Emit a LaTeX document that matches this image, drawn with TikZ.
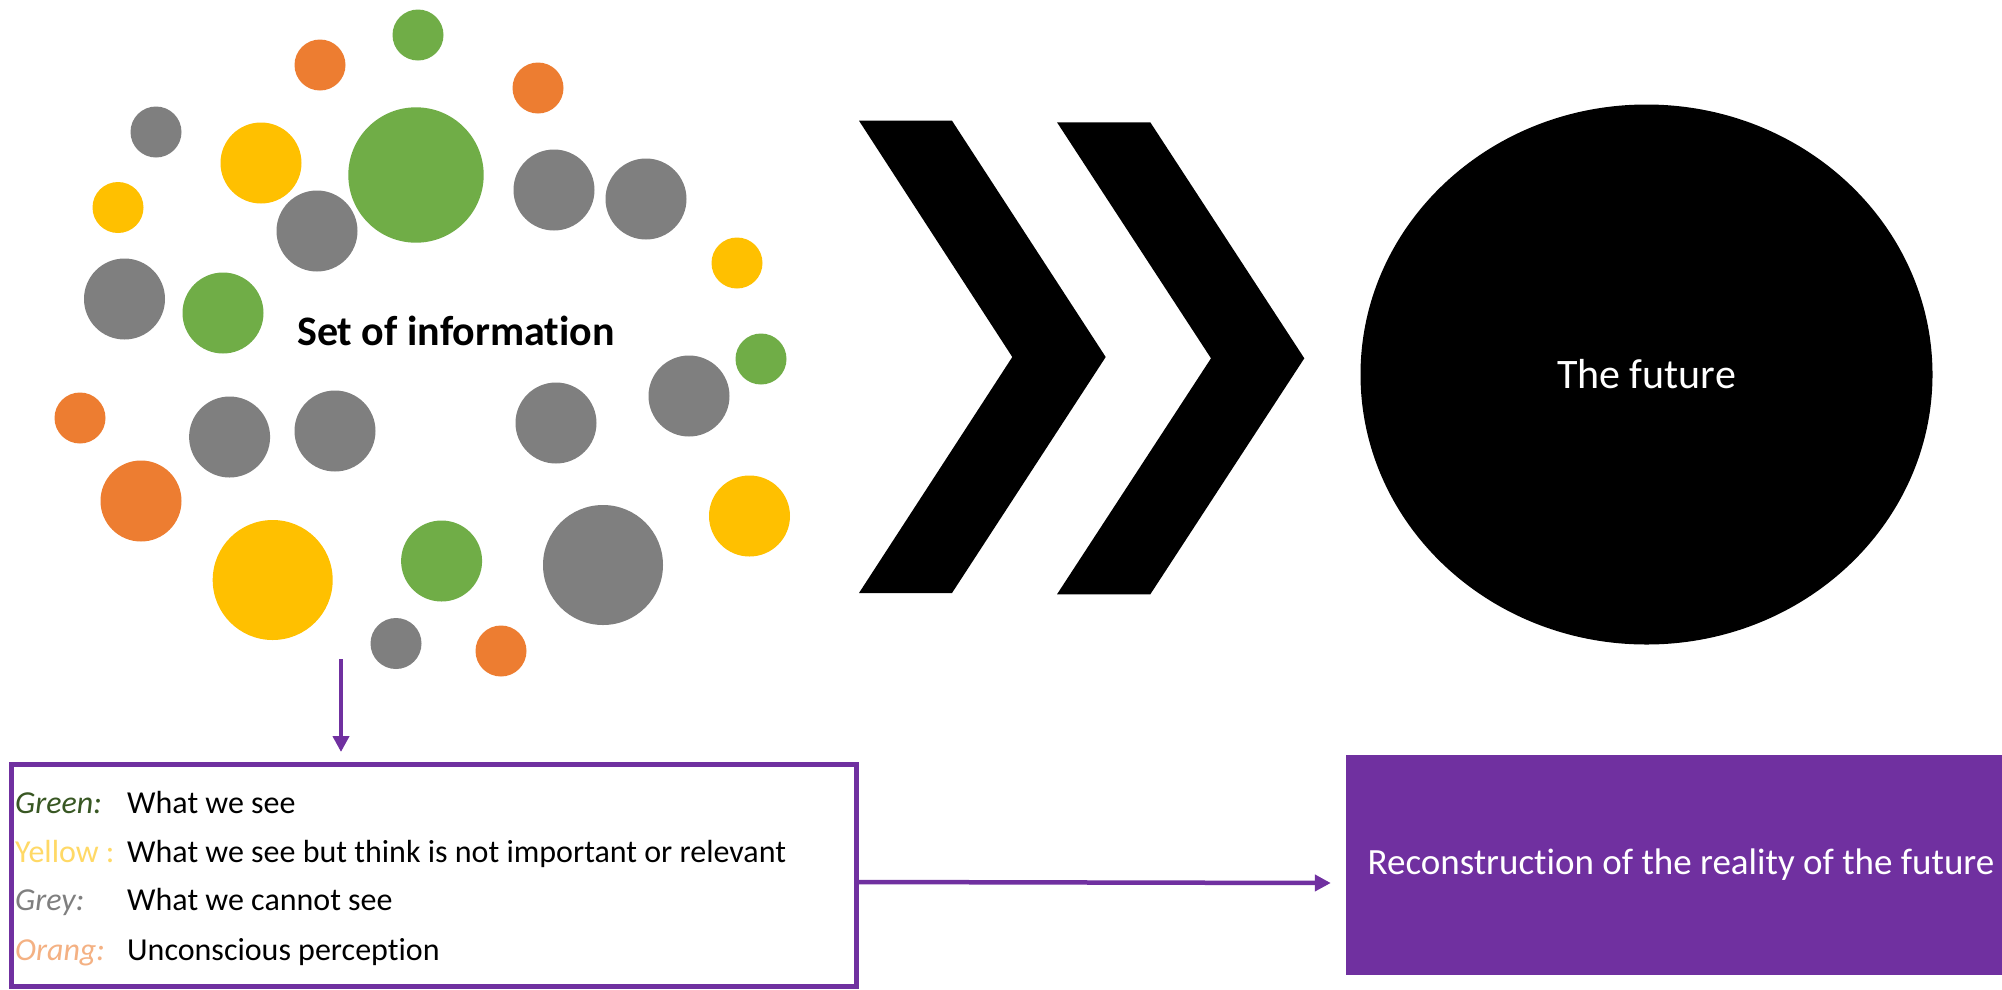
\documentclass[tikz,border=0pt]{standalone}
\usepackage{fontspec}
\setmainfont{Carlito}[Ligatures={NoCommon,NoContextual}]
\usetikzlibrary{arrows.meta,shapes.geometric}
\definecolor{cgreen}{HTML}{70AD47}
\definecolor{cyellow}{HTML}{FFC000}
\definecolor{corange}{HTML}{ED7D31}
\definecolor{cgrey}{HTML}{7F7F7F}
\definecolor{cpurple}{HTML}{7030A0}
\definecolor{lgreen}{HTML}{385723}
\definecolor{lyellow}{HTML}{FFD966}
\definecolor{lorange}{HTML}{F4B183}
\begin{document}
\begin{tikzpicture}[x=1pt,y=-1pt,
  arr/.style={draw=cpurple, line width=4.5pt, -{Triangle[length=16pt,width=16pt]}},
  leglabel/.style={anchor=base west, inner sep=0pt, font=\fontsize{32}{38}\selectfont\itshape},
  legtext/.style={anchor=base west, inner sep=0pt, font=\fontsize{32}{38}\selectfont},
]
\useasboundingbox (0,0) rectangle (2002,989);
\fill[white] (0,0) rectangle (2002,989);
% cluster of circles
\foreach \cx/\cy/\r/\c in {
 320/65/25.5/corange, 418/35/25.5/cgreen, 538/88/25.5/corange, 156/132/25.5/cgrey,
 261/163/40.5/cyellow, 416/175/67.7/cgreen, 554/190/40.5/cgrey, 646/199/40.5/cgrey,
 118/207.5/25.5/cyellow, 317/231/40.5/cgrey, 737/263/25.5/cyellow, 124.5/299/40.5/cgrey,
 223/313/40.5/cgreen, 761/359/25.5/cgreen, 80/418/25.5/corange, 229.6/437/40.5/cgrey,
 335/431/40.5/cgrey, 556/423/40.5/cgrey, 689/396/40.5/cgrey, 141/501/40.5/corange,
 749.5/516/40.5/cyellow, 272.7/580/60/cyellow, 441.6/561/40.5/cgreen, 603/565/60/cgrey,
 396/643.5/25.5/cgrey, 501/651/25.5/corange}
 { \fill[\c] (\cx,\cy) circle[radius=\r]; }
\node[anchor=base west, inner sep=0pt, font=\fontsize{42}{50}\selectfont\bfseries] (soi) at (297,345) {Set of informat\kern0pt ion};
% chevrons
\fill[black] (859,120.7) -- (952,120.7) -- (1105.7,357) -- (952,593) -- (859,593) -- (1012.3,357) -- cycle;
\fill[black] (1057,122.3) -- (1150.3,122.3) -- (1304.3,358.3) -- (1150.3,594.3) -- (1057,594.3) -- (1211,358.3) -- cycle;
% future
\node[ellipse, fill=black, minimum width=572pt, minimum height=540pt, inner sep=0pt, text=white, font=\fontsize{42}{50}\selectfont] (future) at (1646.5,374.5) {The future};
% legend
\node[draw=cpurple, line width=5pt, minimum width=845pt, minimum height=222pt, inner sep=0pt] (legend) at (434,875) {};
\node[leglabel, text=lgreen] (lg) at (15,813) {Green:};
\node[leglabel, text=lyellow, font=\fontsize{32}{38}\selectfont] (ly) at (15,862) {Yellow :};
\node[leglabel, text=cgrey] (lgr) at (15,910) {Grey:};
\node[leglabel, text=lorange] (lo) at (15,960) {Orang:};
\node[legtext] (tg) at (127,813) {What we see};
\node[legtext] (ty) at (127,862) {What we see but think is not important or relevant};
\node[legtext] (tgr) at (127,910) {What we cannot see};
\node[legtext] (to) at (127,960) {Unconscious percept\kern0pt ion};
% reconstruction box
\node[fill=cpurple, minimum width=670pt, minimum height=220pt, inner sep=0pt, text=white, font=\fontsize{37}{44}\selectfont] (recon) at (1681,865) {Reconstruct\kern0pt ion of the reality of the future};
% arrows
\coordinate (dtop) at (341,659);
\draw[arr, shorten >=9.5pt] (dtop) -- (dtop |- legend.north);
\draw[arr] ([yshift=-7pt]legend.east) -- ([xshift=-15pt,yshift=-18pt]recon.west);
\end{tikzpicture}
\end{document}
